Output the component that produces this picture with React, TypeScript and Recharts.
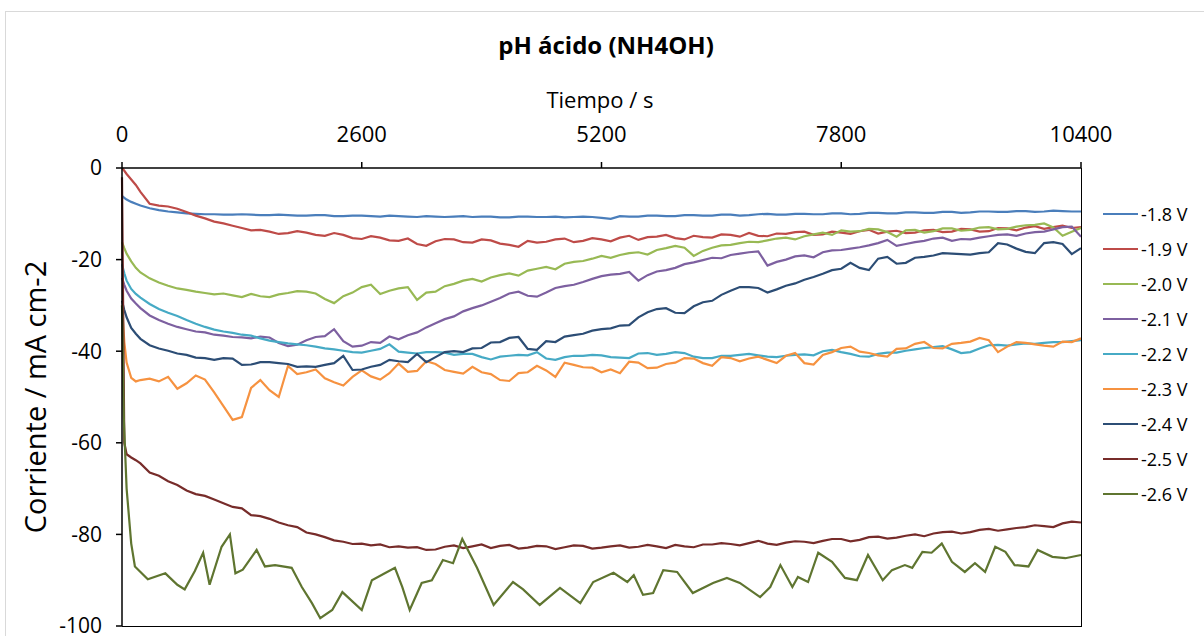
import { LineChart, Line, XAxis, YAxis } from "recharts";

// time grid (s) shared by the noisy series
const T = [
  0, 25, 50, 100, 150, 200, 300, 400, 500,
  600, 700, 800, 900, 1000, 1100, 1200, 1300, 1400, 1500,
  1600, 1700, 1800, 1900, 2000, 2100, 2200, 2300, 2400, 2500,
  2600, 2700, 2800, 2900, 3000, 3100, 3200, 3300, 3400, 3500,
  3600, 3700, 3800, 3900, 4000, 4100, 4200, 4300, 4400, 4500,
  4600, 4700, 4800, 4900, 5000, 5100, 5200, 5300, 5400, 5500,
  5600, 5700, 5800, 5900, 6000, 6100, 6200, 6300, 6400, 6500,
  6600, 6700, 6800, 6900, 7000, 7100, 7200, 7300, 7400, 7500,
  7600, 7700, 7800, 7900, 8000, 8100, 8200, 8300, 8400, 8500,
  8600, 8700, 8800, 8900, 9000, 9100, 9200, 9300, 9400, 9500,
  9600, 9700, 9800, 9900, 10000, 10100, 10200, 10300, 10400,
];

const V18 = [
  -6.1, -6.5, -6.9, -7.4, -7.8, -8.2, -8.8, -9.2, -9.5,
  -9.7, -9.9, -10.0, -10.1, -10.1, -10.2, -10.2, -10.1, -10.2, -10.3,
  -10.3, -10.2, -10.3, -10.4, -10.4, -10.3, -10.3, -10.5, -10.5, -10.4,
  -10.4, -10.5, -10.6, -10.4, -10.5, -10.6, -10.7, -10.5, -10.6, -10.7,
  -10.6, -10.5, -10.7, -10.6, -10.6, -10.8, -10.8, -10.6, -10.6, -10.7,
  -10.7, -10.6, -10.8, -10.7, -10.6, -10.7, -10.9, -11.1, -10.5, -10.6,
  -10.6, -10.4, -10.4, -10.5, -10.5, -10.3, -10.3, -10.4, -10.4, -10.2,
  -10.2, -10.4, -10.3, -10.1, -10.0, -10.2, -10.2, -10.0, -10.0, -10.1,
  -10.1, -9.9, -9.9, -10.1, -10.0, -9.8, -9.8, -9.9, -9.9, -9.7,
  -9.7, -9.8, -9.8, -9.6, -9.6, -9.8, -9.7, -9.5, -9.5, -9.6,
  -9.6, -9.4, -9.4, -9.6, -9.5, -9.3, -9.4, -9.5, -9.5,
];

const V19 = [
  0, -0.6, -1.3, -2.5, -3.7, -5.2, -7.8, -8.2, -8.4,
  -8.9, -9.6, -10.4, -11.0, -11.7, -12.1, -12.6, -13.1, -13.6, -13.5,
  -13.9, -14.4, -14.2, -13.8, -14.1, -14.6, -14.8, -14.2, -14.6, -15.3,
  -15.5, -14.9, -15.2, -15.8, -15.9, -15.4, -16.6, -17.0, -16.0, -15.5,
  -15.6, -16.2, -16.3, -15.6, -15.8, -16.5, -16.8, -17.2, -15.9, -16.3,
  -16.1, -15.6, -15.4, -16.2, -15.9, -15.3, -15.6, -16.0, -15.2, -14.8,
  -15.7, -15.1, -15.0, -14.6, -15.3, -15.6, -14.8, -15.1, -15.2, -14.5,
  -14.6, -15.0, -14.2, -14.8, -14.9, -14.3, -14.4, -14.0, -13.9, -14.6,
  -14.5, -13.9, -14.1, -14.4, -13.8, -13.5, -14.3, -13.9, -13.7, -14.2,
  -14.1, -13.6, -13.5, -14.0, -13.9, -13.3, -13.4, -13.9, -13.8, -13.1,
  -13.2, -13.6, -13.0, -12.7, -13.3, -12.9, -12.6, -13.1, -12.9,
];

const V20 = [
  -16.2, -17.5, -18.7, -20.4, -21.8, -22.8, -24.1, -25.0, -25.7,
  -26.3, -26.6, -27.0, -27.3, -27.6, -27.4, -27.8, -28.2, -27.5, -28.0,
  -28.2, -27.6, -27.3, -26.9, -27.0, -27.4, -28.6, -29.5, -28.0, -27.2,
  -26.0, -25.5, -27.5, -26.8, -26.3, -26.0, -28.8, -27.2, -27.0, -25.8,
  -25.3, -24.6, -24.2, -24.8, -23.9, -23.4, -23.0, -23.5, -22.4, -22.0,
  -21.6, -22.1, -20.9, -20.5, -20.3, -19.8, -19.2, -19.6, -19.0, -18.6,
  -18.4, -18.9, -17.9, -17.5, -17.0, -17.4, -19.2, -18.1, -17.4, -16.9,
  -16.8, -16.4, -16.1, -16.2, -15.8, -15.4, -15.2, -15.6, -14.9, -14.5,
  -14.1, -14.6, -13.6, -13.9, -13.8, -13.3, -13.4, -14.0, -15.0, -13.6,
  -13.5, -14.1, -13.8, -13.2, -13.2, -13.7, -13.5, -13.0, -12.9, -13.4,
  -13.3, -12.8, -12.5, -12.4, -12.1, -13.0, -14.8, -13.9, -13.1,
];

const V21 = [
  -24.0, -25.5, -26.8, -28.5, -29.6, -30.6, -32.2, -33.2, -34.0,
  -34.7, -35.2, -35.7, -35.9, -36.4, -36.6, -36.9, -37.0, -37.2, -36.8,
  -37.0, -38.2, -38.9, -38.6, -37.6, -36.9, -36.7, -35.2, -37.8, -39.0,
  -38.8, -38.0, -38.2, -36.8, -37.4, -36.5, -35.9, -34.8, -33.9, -33.0,
  -32.4, -31.3, -30.6, -30.0, -29.2, -28.4, -27.4, -27.0, -27.9, -28.1,
  -27.2, -26.2, -25.8, -25.5, -24.9, -24.2, -23.6, -23.3, -23.1, -22.7,
  -24.6, -23.4, -22.6, -22.3, -21.8, -21.0, -20.6, -20.1, -19.6, -19.7,
  -19.0, -18.7, -18.4, -18.2, -21.3, -20.5, -20.0, -19.3, -19.1, -19.5,
  -18.4, -18.0, -17.9, -17.6, -17.3, -16.9, -16.4, -15.7, -17.0, -16.6,
  -16.2, -15.9, -15.4, -15.2, -15.9, -15.5, -15.6, -15.2, -14.9, -14.6,
  -14.5, -14.8, -14.3, -14.0, -13.9, -13.4, -12.9, -12.8, -15.0,
];

const V22 = [
  -21.0, -23.0, -24.6, -26.4, -27.5, -28.3, -29.7, -30.8, -31.6,
  -32.3, -33.2, -34.0, -34.7, -35.3, -35.7, -36.0, -36.4, -36.6, -37.2,
  -37.7, -38.0, -38.3, -38.5, -38.7, -39.0, -39.4, -39.6, -39.9, -40.2,
  -40.3, -39.9, -39.5, -38.5, -40.1, -40.3, -40.5, -40.2, -40.2, -40.3,
  -40.8, -40.6, -40.6, -41.3, -41.8, -41.2, -41.0, -40.8, -40.9, -40.2,
  -41.6, -41.9, -41.3, -41.0, -41.0, -40.8, -40.9, -41.3, -41.4, -41.5,
  -40.5, -40.4, -40.8, -40.6, -40.2, -40.4, -41.2, -41.5, -41.5, -41.0,
  -41.0, -40.8, -40.6, -40.9, -41.2, -41.3, -41.0, -40.8, -40.7, -40.9,
  -40.0, -39.7, -40.2, -40.6, -41.1, -41.2, -40.6, -40.3, -40.3, -39.9,
  -39.6, -39.3, -39.1, -38.9, -39.6, -40.4, -40.2, -39.4, -38.7, -38.6,
  -38.8, -38.5, -38.3, -38.4, -38.2, -38.0, -38.0, -37.8, -37.6,
];

const V23 = [
  -30.0, -38.0, -42.5, -45.8, -46.6, -46.3, -46.0, -46.6, -45.6,
  -48.2, -47.0, -45.3, -46.2, -49.0, -52.0, -55.0, -54.4, -48.0, -46.3,
  -48.5, -50.0, -43.2, -45.0, -44.6, -44.0, -45.9, -46.8, -47.5, -45.6,
  -44.2, -45.5, -46.2, -44.8, -42.7, -44.5, -44.3, -42.2, -42.8, -44.1,
  -44.5, -44.9, -43.4, -44.6, -45.0, -46.3, -46.5, -44.8, -44.6, -43.2,
  -44.2, -45.6, -42.5, -43.0, -43.5, -43.6, -44.6, -44.0, -44.8, -42.3,
  -42.5, -43.7, -43.6, -42.8, -42.5, -41.5, -41.6, -42.6, -43.2, -41.3,
  -41.5, -42.2, -41.6, -41.2, -41.9, -42.6, -41.0, -40.4, -42.6, -42.9,
  -40.8, -40.2, -39.3, -39.0, -40.1, -40.4, -40.9, -41.2, -39.5, -39.4,
  -38.4, -38.0, -39.3, -39.4, -38.4, -38.2, -37.9, -37.1, -37.6, -40.2,
  -39.0, -38.0, -38.2, -38.5, -38.8, -39.0, -37.9, -38.0, -37.2,
];

const V24 = [
  -29.0, -31.0, -32.6, -34.9, -36.2, -37.3, -38.7, -39.4, -39.9,
  -40.5, -40.8, -41.4, -41.5, -41.9, -41.5, -41.6, -43.0, -42.9, -42.4,
  -42.4, -42.6, -42.8, -43.4, -43.3, -43.4, -43.0, -42.6, -41.0, -44.1,
  -44.0, -43.4, -43.0, -41.9, -42.2, -42.4, -40.6, -42.4, -41.3, -40.2,
  -40.0, -40.2, -39.4, -39.3, -38.1, -38.0, -37.1, -36.9, -39.5, -39.7,
  -37.8, -38.0, -36.8, -36.5, -36.2, -35.5, -35.2, -35.0, -34.4, -34.3,
  -32.6, -31.5, -30.8, -30.6, -31.6, -31.7, -30.2, -29.3, -29.0, -27.7,
  -26.8, -26.0, -26.0, -26.2, -27.2, -26.5, -25.7, -25.2, -24.4, -23.8,
  -23.1, -22.3, -22.0, -20.7, -21.8, -22.3, -19.8, -19.4, -20.9, -20.7,
  -19.6, -19.4, -19.1, -18.6, -18.7, -18.8, -18.9, -18.6, -18.4, -16.4,
  -16.7, -17.6, -18.3, -18.6, -16.4, -16.2, -16.6, -18.8, -17.5,
];

const V25 = [
  -2.0, -60.0, -62.5, -63.2, -63.8, -64.5, -66.5, -67.2, -68.4,
  -69.2, -70.4, -71.2, -71.6, -72.4, -73.2, -74.0, -74.3, -75.8, -76.0,
  -76.6, -77.4, -78.0, -78.4, -79.6, -80.0, -80.6, -81.3, -81.6, -82.1,
  -82.0, -82.4, -82.2, -82.8, -82.6, -82.9, -82.8, -83.4, -83.3, -82.7,
  -82.4, -83.0, -82.6, -82.2, -83.0, -82.5, -82.3, -83.1, -82.9, -82.5,
  -82.6, -83.2, -82.8, -82.4, -82.5, -83.1, -82.9, -82.6, -82.4, -82.9,
  -82.7, -82.3, -82.6, -83.0, -82.3, -82.6, -82.8, -82.2, -82.2, -81.9,
  -82.1, -82.4, -81.9, -81.4, -82.0, -82.3, -81.8, -81.5, -81.6, -81.9,
  -81.4, -81.0, -81.0, -81.5, -81.2, -80.6, -80.5, -80.9, -80.7, -80.3,
  -80.0, -80.4, -79.8, -79.5, -79.4, -79.8, -79.5, -79.0, -78.8, -79.2,
  -78.9, -78.6, -78.4, -78.0, -78.2, -78.4, -77.6, -77.2, -77.4,
];

// -2.6 V has its own (irregular) time points
const T26 = [
  0, 20, 50, 100, 140, 280, 470, 600, 680, 790, 880, 950, 1080, 1170, 1230,
  1310, 1460, 1550, 1660, 1840, 1950, 2060, 2150, 2280, 2390, 2600, 2710,
  2850, 2960, 3040, 3120, 3250, 3360, 3480, 3590, 3690, 3850, 4030, 4240,
  4350, 4530, 4750, 4970, 5110, 5330, 5480, 5550, 5650, 5760, 5870, 6020,
  6190, 6410, 6560, 6700, 6920, 7030, 7140, 7270, 7330, 7440, 7550, 7700,
  7840, 7970, 8090, 8250, 8350, 8490, 8570, 8680, 8780, 8890, 9000, 9140,
  9250, 9360, 9470, 9580, 9680, 9830, 9930, 10090, 10230, 10400,
];
const V26 = [
  -30, -55, -70, -82, -87, -89.8, -88.5, -91, -92, -88, -84, -91, -82.7, -80, -88.5,
  -87.7, -83.4, -87, -86.7, -87.3, -91.5, -95, -98.3, -96.5, -92.6, -96.5, -90,
  -88.5, -87.3, -91.5, -96.5, -90.6, -90, -85.6, -86.3, -81, -87.3, -95.4, -90.4,
  -92, -95.4, -91.7, -95, -90.4, -88.4, -90.4, -88.9, -93.2, -92.8, -87.8, -88.2,
  -92.8, -90.6, -89.5, -90.6, -93.7, -91.5, -86.7, -91.5, -89.3, -90.4, -84, -86,
  -89.5, -90, -84.5, -90, -87.8, -86.7, -87.3, -83.8, -84, -82, -86, -88.2,
  -86.3, -88.2, -82.7, -83.8, -86.7, -87, -83.4, -84.9, -85.2, -84.5,
];

const X_TICKS = [0, 2600, 5200, 7800, 10400];
const Y_TICKS = [-100, -80, -60, -40, -20, 0];

const SERIES = [
  { key: "v18", name: "-1.8 V", color: "#4A7EBB", values: V18 },
  { key: "v19", name: "-1.9 V", color: "#BE4B48", values: V19 },
  { key: "v20", name: "-2.0 V", color: "#98B954", values: V20 },
  { key: "v21", name: "-2.1 V", color: "#7D60A0", values: V21 },
  { key: "v22", name: "-2.2 V", color: "#46AAC5", values: V22 },
  { key: "v23", name: "-2.3 V", color: "#F69240", values: V23 },
  { key: "v24", name: "-2.4 V", color: "#2C4D75", values: V24 },
  { key: "v25", name: "-2.5 V", color: "#772C2A", values: V25 },
];
const S26 = { key: "v26", name: "-2.6 V", color: "#5F7530" };

const rows = T.map((t, i) => {
  const r: any = { t };
  SERIES.forEach((s) => {
    r[s.key] = s.values[i];
  });
  return r;
});
const rows26 = T26.map((t, i) => ({ t, v26: V26[i] }));

const FONT = "'Open Sans', sans-serif";
const legendItems = [...SERIES, S26];

const App = () => {
  return (
    <div style={{ position: "relative", width: 1204, height: 636, fontFamily: FONT, background: "#fff" }}>
      <style>{"body{margin:0;overflow:hidden}"}</style>
      {/* chart frame */}
      <div
        style={{
          position: "absolute",
          left: 5,
          top: 11,
          width: 1199,
          height: 625,
          borderLeft: "1px solid #d9d9d9",
          borderTop: "1px solid #d9d9d9",
        }}
      />
      <div style={{ position: "absolute", left: 0, width: 1212, top: 28, textAlign: "center", fontSize: 24, fontWeight: 700, color: "#000" }}>
        pH ácido (NH4OH)
      </div>
      <div style={{ position: "absolute", left: 0, width: 1200, top: 84, textAlign: "center", fontSize: 22, color: "#000" }}>
        Tiempo / s
      </div>
      <div
        style={{
          position: "absolute",
          left: 34,
          top: 397,
          transform: "translate(-50%, -50%) rotate(-90deg)",
          whiteSpace: "nowrap",
          fontSize: 29,
          color: "#000",
        }}
      >
        Corriente / mA cm-2
      </div>

      <div style={{ position: "absolute", left: 0, top: 0 }}>
        <LineChart width={1204} height={636} data={rows} margin={{ top: 110, right: 123, bottom: 10, left: 60 }}>
          <XAxis
            dataKey="t"
            type="number"
            orientation="top"
            domain={[0, 10400]}
            ticks={X_TICKS}
            interval={0}
            height={58}
            tickMargin={20}
            tick={{ fill: "#000", fontSize: 22, fontFamily: FONT }}
            axisLine={{ stroke: "#000", strokeWidth: 1.5 }}
            tickLine={{ stroke: "#000", strokeWidth: 1.5 }}
          />
          <YAxis
            type="number"
            domain={[-100, 0]}
            ticks={Y_TICKS}
            interval={0}
            width={62}
            tickMargin={14}
            tick={{ fill: "#000", fontSize: 21, fontFamily: FONT }}
            axisLine={{ stroke: "#000", strokeWidth: 1.5 }}
            tickLine={{ stroke: "#000", strokeWidth: 1.5 }}
          />
          {SERIES.map((s) => (
            <Line
              key={s.key}
              type="linear"
              dataKey={s.key}
              name={s.name}
              stroke={s.color}
              strokeWidth={2.2}
              dot={false}
              isAnimationActive={false}
            />
          ))}
          <Line
            data={rows26}
            type="linear"
            dataKey="v26"
            name={S26.name}
            stroke={S26.color}
            strokeWidth={2.2}
            dot={false}
            isAnimationActive={false}
          />
        </LineChart>
      </div>

      {/* right and bottom edges of the plot box */}
      <div
        style={{
          position: "absolute",
          left: 122,
          top: 168,
          width: 959,
          height: 458,
          borderRight: "1.5px solid #000",
          borderBottom: "1.5px solid #000",
          pointerEvents: "none",
        }}
      />

      {/* legend */}
      <div style={{ position: "absolute", left: 1103, top: 196 }}>
        {legendItems.map((s) => (
          <div key={s.key} style={{ display: "flex", alignItems: "center", height: 35 }}>
            <div style={{ width: 35, height: 2, background: s.color, marginRight: 3 }} />
            <span style={{ fontSize: 18, color: "#000" }}>{s.name}</span>
          </div>
        ))}
      </div>
    </div>
  );
};

export default App;
